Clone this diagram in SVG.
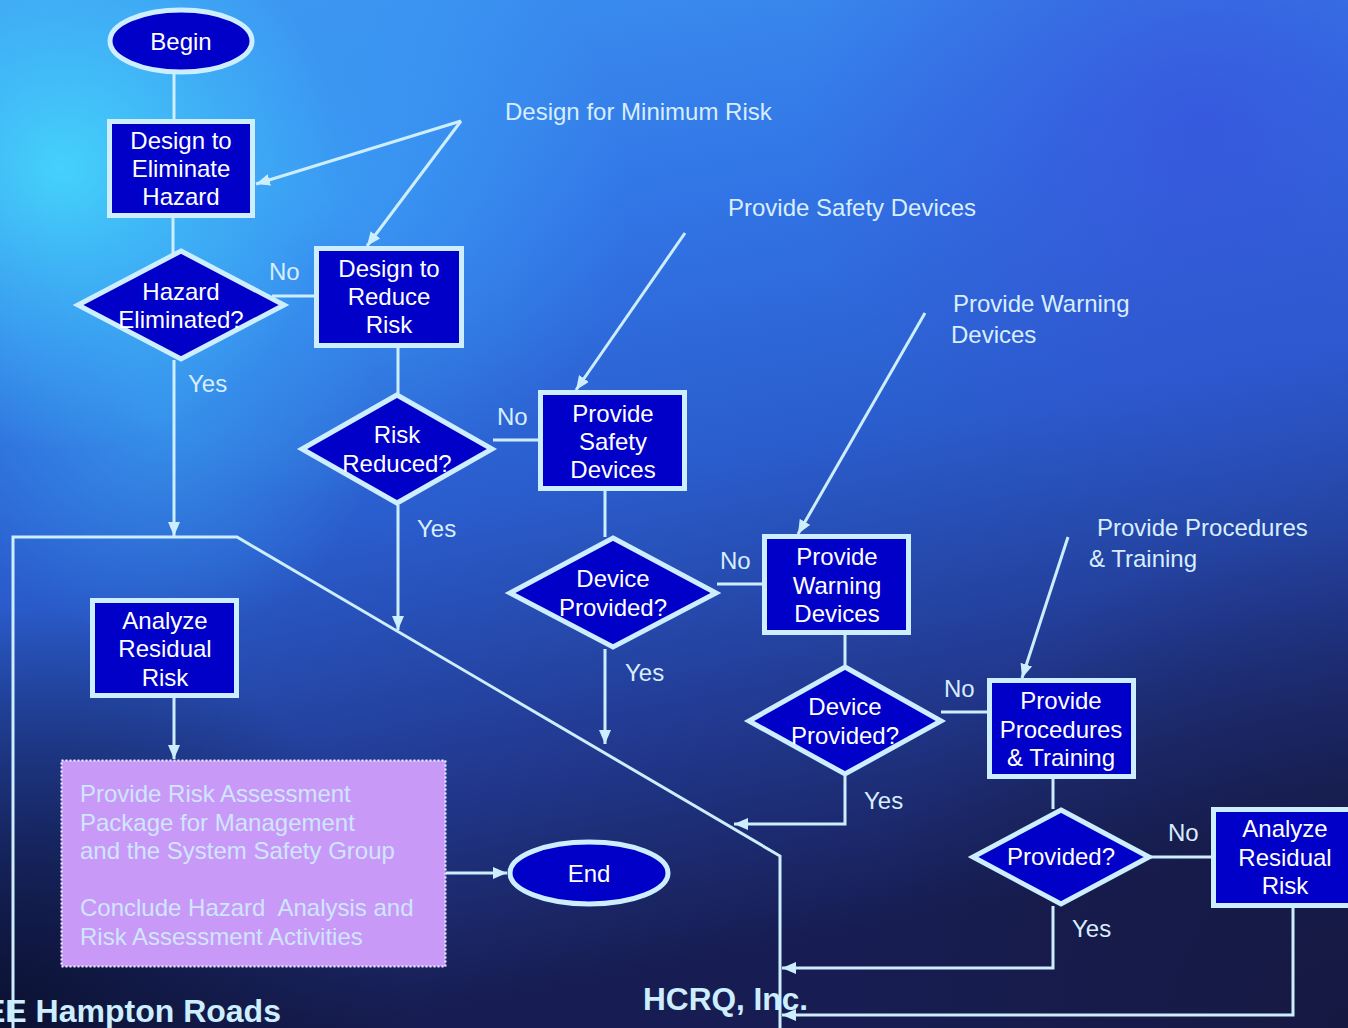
<svg xmlns="http://www.w3.org/2000/svg" width="1348" height="1028" viewBox="0 0 1348 1028">
<defs>
<linearGradient id="bg" x1="0" y1="0" x2="0.25" y2="1">
<stop offset="0" stop-color="#3d96f2"/>
<stop offset="0.3" stop-color="#3275e6"/>
<stop offset="0.55" stop-color="#2a5ccc"/>
<stop offset="0.78" stop-color="#223a92"/>
<stop offset="1" stop-color="#171d52"/>
</linearGradient>
<radialGradient id="cy1" cx="60" cy="170" r="280" gradientUnits="userSpaceOnUse">
<stop offset="0" stop-color="#48e4ff" stop-opacity="0.8"/>
<stop offset="1" stop-color="#48e4ff" stop-opacity="0"/>
</radialGradient>
<radialGradient id="cy2" cx="330" cy="200" r="300" gradientUnits="userSpaceOnUse">
<stop offset="0" stop-color="#40b8ff" stop-opacity="0.5"/>
<stop offset="1" stop-color="#40b8ff" stop-opacity="0"/>
</radialGradient>
<radialGradient id="cy3" cx="160" cy="420" r="220" gradientUnits="userSpaceOnUse">
<stop offset="0" stop-color="#40c0ff" stop-opacity="0.45"/>
<stop offset="1" stop-color="#40c0ff" stop-opacity="0"/>
</radialGradient>
<radialGradient id="pu" cx="1200" cy="120" r="400" gradientUnits="userSpaceOnUse">
<stop offset="0" stop-color="#3a48d8" stop-opacity="0.6"/>
<stop offset="1" stop-color="#3a48d8" stop-opacity="0"/>
</radialGradient>
<radialGradient id="dk" cx="0" cy="1028" r="420" gradientUnits="userSpaceOnUse">
<stop offset="0" stop-color="#0a0f2c" stop-opacity="0.9"/>
<stop offset="1" stop-color="#0a0f2c" stop-opacity="0"/>
</radialGradient>
<radialGradient id="dk2" cx="1348" cy="1028" r="500" gradientUnits="userSpaceOnUse">
<stop offset="0" stop-color="#15183e" stop-opacity="0.8"/>
<stop offset="1" stop-color="#15183e" stop-opacity="0"/>
</radialGradient>
<marker id="ah" viewBox="0 0 14 12" refX="14" refY="6" markerWidth="14" markerHeight="12" markerUnits="userSpaceOnUse" orient="auto">
<path d="M0,0 L14,6 L0,12 z" fill="#cdeeff"/>
</marker>
<style>
.n{fill:#0000c8;stroke:#cdeeff;stroke-width:5}
.t{font-family:"Liberation Sans",Arial,sans-serif;font-size:24px;fill:#ffffff;text-anchor:middle}
.l{font-family:"Liberation Sans",Arial,sans-serif;font-size:24px;fill:#d8eeff}
.c{fill:none;stroke:#cdeeff;stroke-width:3}
.a{fill:none;stroke:#cdeeff;stroke-width:3;marker-end:url(#ah)}
.p{font-family:"Liberation Sans",Arial,sans-serif;font-size:24px;fill:#cfe6ff}
.b{font-family:"Liberation Sans",Arial,sans-serif;font-size:32px;font-weight:bold;fill:#cdeeff}
</style>
</defs>
<rect width="1348" height="1028" fill="url(#bg)"/>
<rect width="1348" height="1028" fill="url(#cy2)"/>
<rect width="1348" height="1028" fill="url(#cy1)"/>
<rect width="1348" height="1028" fill="url(#cy3)"/>
<rect width="1348" height="1028" fill="url(#pu)"/>
<rect width="1348" height="1028" fill="url(#dk)"/>
<rect width="1348" height="1028" fill="url(#dk2)"/>

<g id="connectors">
<path class="c" d="M13,1030 V537 H237 L780,856 V1030"/>
<line class="c" x1="174" y1="74" x2="174" y2="121"/>
<line class="c" x1="173" y1="216" x2="173" y2="264"/>
<line class="c" x1="272" y1="296" x2="317" y2="296"/>
<line class="c" x1="398" y1="346" x2="398" y2="394"/>
<line class="c" x1="493" y1="440" x2="541" y2="440"/>
<line class="c" x1="605" y1="490" x2="605" y2="537"/>
<line class="c" x1="717" y1="584" x2="765" y2="584"/>
<line class="c" x1="845" y1="634" x2="845" y2="665"/>
<line class="c" x1="941" y1="712" x2="990" y2="712"/>
<line class="c" x1="1053" y1="778" x2="1053" y2="809"/>
<line class="c" x1="1149" y1="857" x2="1213" y2="857"/>
<line class="a" x1="174" y1="360" x2="174" y2="536"/>
<line class="a" x1="398" y1="505" x2="398" y2="630"/>
<line class="a" x1="605" y1="649" x2="605" y2="744"/>
<polyline class="a" points="845,776 845,824 734,824"/>
<polyline class="a" points="1053,906 1053,968 782,968"/>
<polyline class="a" points="1293,907 1293,1015 782,1015"/>
<line class="a" x1="174" y1="697" x2="174" y2="759"/>
<line class="a" x1="446" y1="873" x2="507" y2="873"/>
<line class="a" x1="461" y1="121" x2="256" y2="184"/>
<line class="a" x1="461" y1="121" x2="367" y2="246"/>
<line class="a" x1="685" y1="233" x2="576" y2="390"/>
<line class="a" x1="925" y1="313" x2="798" y2="534"/>
<line class="a" x1="1068" y1="537" x2="1022" y2="678"/>
</g>

<g id="labels">
<text class="l" x="505" y="120">Design for Minimum Risk</text>
<text class="l" x="728" y="216">Provide Safety Devices</text>
<text class="l" x="953" y="312">Provide Warning</text>
<text class="l" x="951" y="343">Devices</text>
<text class="l" x="1097" y="536">Provide Procedures</text>
<text class="l" x="1089" y="567">&amp; Training</text>
<text class="l" x="269" y="280">No</text>
<text class="l" x="188" y="392">Yes</text>
<text class="l" x="497" y="425">No</text>
<text class="l" x="417" y="537">Yes</text>
<text class="l" x="720" y="569">No</text>
<text class="l" x="625" y="681">Yes</text>
<text class="l" x="944" y="697">No</text>
<text class="l" x="864" y="809">Yes</text>
<text class="l" x="1168" y="841">No</text>
<text class="l" x="1072" y="937">Yes</text>
<text class="b" x="-16" y="1022">EE Hampton Roads</text>
<text class="b" x="643" y="1010" textLength="165" lengthAdjust="spacingAndGlyphs">HCRQ, Inc.</text>
</g>

<g id="begin">
<ellipse class="n" cx="181" cy="41" rx="71" ry="31"/>
<text class="t" x="181" y="50" font-size="23">Begin</text>
</g>
<g id="design-eliminate">
<rect class="n" x="109.5" y="121.5" width="143" height="94"/>
<text class="t" x="181" y="149">Design to</text>
<text class="t" x="181" y="177">Eliminate</text>
<text class="t" x="181" y="205">Hazard</text>
</g>
<g id="hazard-eliminated">
<polygon class="n" points="181,251 284,305 181,359 78,305"/>
<text class="t" x="181" y="300">Hazard</text>
<text class="t" x="181" y="328">Eliminated?</text>
</g>
<g id="design-reduce">
<rect class="n" x="316.5" y="248.5" width="145" height="97"/>
<text class="t" x="389" y="277">Design to</text>
<text class="t" x="389" y="305">Reduce</text>
<text class="t" x="389" y="333">Risk</text>
</g>
<g id="risk-reduced">
<polygon class="n" points="397,395 492,449 397,503 302,449"/>
<text class="t" x="397" y="443">Risk</text>
<text class="t" x="397" y="472">Reduced?</text>
</g>
<g id="safety-devices">
<rect class="n" x="540.5" y="392.5" width="144" height="96"/>
<text class="t" x="613" y="422">Provide</text>
<text class="t" x="613" y="450">Safety</text>
<text class="t" x="613" y="478">Devices</text>
</g>
<g id="device-provided-1">
<polygon class="n" points="613,538 716,593 613,647 510,593"/>
<text class="t" x="613" y="587">Device</text>
<text class="t" x="613" y="616">Provided?</text>
</g>
<g id="warning-devices">
<rect class="n" x="764.5" y="536.5" width="144" height="96"/>
<text class="t" x="837" y="565">Provide</text>
<text class="t" x="837" y="594">Warning</text>
<text class="t" x="837" y="622">Devices</text>
</g>
<g id="device-provided-2">
<polygon class="n" points="845,667 941,721 845,774 749,721"/>
<text class="t" x="845" y="715">Device</text>
<text class="t" x="845" y="744">Provided?</text>
</g>
<g id="procedures-training">
<rect class="n" x="989.5" y="680.5" width="144" height="96"/>
<text class="t" x="1061" y="709">Provide</text>
<text class="t" x="1061" y="738">Procedures</text>
<text class="t" x="1061" y="766">&amp; Training</text>
</g>
<g id="provided">
<polygon class="n" points="1061,810 1149,857 1061,904 973,857"/>
<text class="t" x="1061" y="865">Provided?</text>
</g>
<g id="analyze-right">
<rect class="n" x="1213.5" y="809.5" width="150" height="96"/>
<text class="t" x="1285" y="837">Analyze</text>
<text class="t" x="1285" y="866">Residual</text>
<text class="t" x="1285" y="894">Risk</text>
</g>
<g id="analyze-left">
<rect class="n" x="92.5" y="600.5" width="144" height="95"/>
<text class="t" x="165" y="629">Analyze</text>
<text class="t" x="165" y="657">Residual</text>
<text class="t" x="165" y="686">Risk</text>
</g>
<g id="risk-package">
<rect x="61.5" y="760.5" width="384" height="206" fill="#c999f8" stroke="#f0f4ff" stroke-width="2" stroke-dasharray="2,2"/>
<text class="p" x="80" y="802">Provide Risk Assessment</text>
<text class="p" x="80" y="831">Package for Management</text>
<text class="p" x="80" y="859">and the System Safety Group</text>
<text class="p" x="80" y="916" xml:space="preserve">Conclude Hazard  Analysis and</text>
<text class="p" x="80" y="945">Risk Assessment Activities</text>
</g>
<g id="end">
<ellipse class="n" cx="589" cy="873" rx="79" ry="31"/>
<text class="t" x="589" y="882">End</text>
</g>
</svg>
